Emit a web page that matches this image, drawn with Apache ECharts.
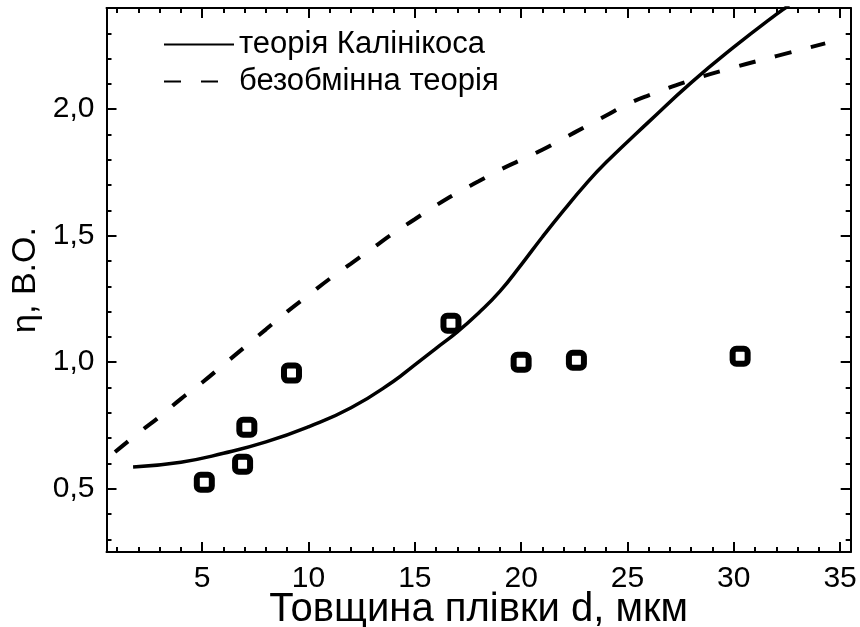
<!DOCTYPE html>
<html>
<head>
<meta charset="utf-8">
<script src="https://cdn.jsdelivr.net/npm/echarts@6/dist/echarts.min.js"></script>
<style>html,body{margin:0;padding:0;background:#fff;}#c{width:860px;height:627px;}</style>
</head>
<body>
<div id="c"></div>
<script>
// Theory of Kalinikos (solid)
const kalX = [1.75, 4, 6, 8, 10, 12, 14, 15, 16, 17, 18, 19, 20, 21, 22, 23, 24, 26, 28, 30, 32, 32.6];
const kalY = [0.586, 0.605, 0.64, 0.685, 0.745, 0.82, 0.925, 0.99, 1.055, 1.12, 1.195, 1.28, 1.385, 1.495, 1.60, 1.70, 1.79, 1.95, 2.105, 2.245, 2.375, 2.41];
// Exchange-free theory (dashed)
const freeX = [0.9, 2, 3, 4, 5, 6, 7, 8, 9, 10, 11, 12, 13, 14, 15, 16, 17, 18, 19, 20, 21, 22, 23, 24, 25, 26, 28, 30, 32, 34.3];
const freeY = [0.645, 0.72, 0.785, 0.855, 0.92, 0.99, 1.06, 1.13, 1.2, 1.265, 1.33, 1.39, 1.45, 1.51, 1.565, 1.62, 1.67, 1.715, 1.76, 1.80, 1.84, 1.885, 1.93, 1.975, 2.02, 2.055, 2.115, 2.165, 2.21, 2.26];
// Experimental points
const expX = [5.1, 6.9, 7.1, 9.2, 16.7, 20.0, 22.6, 30.3];
const expY = [0.526, 0.597, 0.743, 0.957, 1.154, 1.0, 1.008, 1.024];
// Ticks
const xMajor = [5, 10, 15, 20, 25, 30, 35];
const xMinor = Array.from({length: 35}, (_, i) => i + 1);
const yMajor = [0.5, 1.0, 1.5, 2.0];
const yMinor = [0.3,0.4,0.5,0.6,0.7,0.8,0.9,1.0,1.1,1.2,1.3,1.4,1.5,1.6,1.7,1.8,1.9,2.0,2.1,2.2,2.3,2.4];
const legendNames = ['теорія Калінікоса', 'безобмінна теорія'];

const zip = (a, b) => a.map((v, i) => [v, b[i]]);
const FONT = 'Liberation Sans, Arial, sans-serif';
const XMIN = 0.5, XMAX = 35.5, YMIN = 0.25, YMAX = 2.4;

function xAx(pos, vals, len, labels, extra) {
  return Object.assign({
    type: 'value', min: XMIN, max: XMAX, position: pos,
    axisLine: {show: labels, lineStyle: {color: '#000', width: 2}},
    axisTick: {show: true, inside: true, length: len, customValues: vals, lineStyle: {color: '#000', width: 2}},
    axisLabel: labels ? {show: true, customValues: xMajor, color: '#000', fontSize: 30, fontFamily: FONT, margin: 12} : {show: false},
    splitLine: {show: false}
  }, extra || {});
}
function yAx(pos, vals, len, labels, extra) {
  return Object.assign({
    type: 'value', min: YMIN, max: YMAX, position: pos,
    axisLine: {show: labels, lineStyle: {color: '#000', width: 2}},
    axisTick: {show: true, inside: true, length: len, customValues: vals, lineStyle: {color: '#000', width: 2}},
    axisLabel: labels ? {show: true, customValues: yMajor, color: '#000', fontSize: 30, fontFamily: FONT, margin: 12,
      formatter: v => v.toFixed(1).replace('.', ',')} : {show: false},
    splitLine: {show: false}
  }, extra || {});
}

const chart = echarts.init(document.getElementById('c'), null, {renderer: 'canvas'});
chart.setOption({
  backgroundColor: '#fff',
  animation: false,
  grid: {left: 106.5, right: 9.3, top: 8, bottom: 75, containLabel: false, outerBoundsMode: 'none'},
  legend: {
    data: legendNames.map(n => ({name: n, itemStyle: {opacity: 0}})), orient: 'vertical', left: 163, top: 29, padding: 0,
    itemWidth: 70, itemHeight: 31, itemGap: 6,
    textStyle: {fontSize: 31, fontFamily: FONT, color: '#000'},
    selectedMode: false
  },
  xAxis: [
    xAx('bottom', xMajor, 10, true, {name: 'Товщина плівки d, мкм', nameLocation: 'middle', nameGap: 38, nameMoveOverlap: false,
      nameTextStyle: {fontSize: 40, fontFamily: FONT, color: '#000'}}),
    xAx('bottom', xMinor, 5, false),
    xAx('top', xMajor, 10, true, {axisLabel: {show: false}}),
    xAx('top', xMinor, 5, false)
  ],
  yAxis: [
    yAx('left', yMajor, 10, true, {name: 'η, В.О.', nameLocation: 'middle', nameGap: 64, nameMoveOverlap: false,
      nameTextStyle: {fontSize: 34, fontFamily: FONT, color: '#000'}}),
    yAx('left', yMinor, 5, false),
    yAx('right', yMajor, 10, true, {axisLabel: {show: false}}),
    yAx('right', yMinor, 5, false)
  ],
  series: [
    {name: legendNames[0], type: 'line', data: zip(kalX, kalY), smooth: 0.5, symbol: 'none',
      itemStyle: {color: '#000'}, lineStyle: {color: '#000', width: 3.5, type: 'solid'}, clip: true, z: 3},
    {name: legendNames[1], type: 'line', data: zip(freeX, freeY), smooth: 0.5, symbol: 'none',
      itemStyle: {color: '#000'}, lineStyle: {color: '#000', width: 4, type: [17, 20]}, clip: true, z: 3},
    {name: 'експеримент', type: 'scatter', data: zip(expX, expY), symbol: 'roundRect', symbolSize: 15,
      itemStyle: {color: '#fff', borderColor: '#000', borderWidth: 6, opacity: 1}, z: 4}
  ]
});
</script>
</body>
</html>
